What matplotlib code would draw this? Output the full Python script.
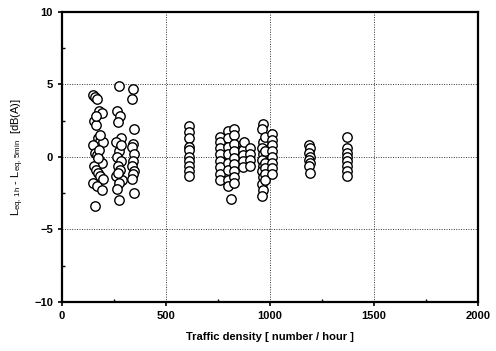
import matplotlib
matplotlib.use("Agg")
import matplotlib.pyplot as plt
import numpy as np

plt.rcParams['font.family'] = ['Liberation Sans', 'DejaVu Sans']
plt.rcParams['mathtext.default'] = 'regular'

# Traffic density groups (x) and differences (y)
g1_x = [150, 160, 170, 180, 190, 155, 165, 175, 185, 195, 150, 160, 170, 180, 190, 155, 165, 175, 185, 195, 150, 170, 190, 160, 180, 175, 165, 185]
g1_y = [4.3, 4.1, 4.0, 3.2, 3.0, 2.5, 2.2, 1.3, 1.1, 1.0, 0.8, 0.3, 0.1, -0.2, -0.4, -0.6, -0.9, -1.1, -1.3, -1.5, -1.8, -2.0, -2.3, -3.4, 0.5, -0.1, 2.8, 1.5]
g2_x = [275, 265, 280, 270, 285, 260, 275, 265, 285, 270, 280, 260, 290, 275, 265, 275, 285, 270]
g2_y = [4.9, 3.2, 2.8, 2.4, 1.3, 1.0, 0.4, 0.0, -0.3, -0.6, -0.9, -1.3, -1.6, -1.8, -2.2, -3.0, 0.8, -1.1]
g3_x = [340, 335, 345, 340, 335, 345, 340, 335, 345, 340, 335, 345]
g3_y = [4.7, 4.0, 1.9, 0.9, 0.7, 0.2, -0.3, -0.6, -1.0, -1.2, -1.5, -2.5]
g4_x = [612, 608, 610, 612, 608, 610, 612, 608, 610, 612]
g4_y = [2.1, 1.7, 1.3, 0.7, 0.5, 0.0, -0.3, -0.6, -1.0, -1.3]
g5_x = [760, 760, 760, 760, 760, 760, 760, 760,
        800, 800, 800, 800, 800, 800, 800, 800,
        825, 825, 825, 825, 825, 825, 825, 825, 825, 810,
        870, 870, 870, 870, 870, 875,
        905, 905, 905, 905]
g5_y = [1.4, 1.0, 0.6, 0.2, -0.3, -0.7, -1.2, -1.6,
        1.8, 1.3, 0.7, 0.2, -0.4, -0.9, -1.6, -2.0,
        1.9, 1.5, 0.9, 0.4, -0.1, -0.5, -1.0, -1.4, -1.8, -2.9,
        0.9, 0.5, 0.1, -0.3, -0.7, 1.0,
        0.6, 0.2, -0.2, -0.6]
g6_x = [967, 960, 967, 960, 967, 960, 967, 960, 967, 960, 967, 962,
        975, 975, 975, 975, 975, 975,
        1010, 1010, 1010, 1010, 1010, 1010, 1010, 1010]
g6_y = [2.3, 1.9, 1.0, 0.6, 0.2, -0.2, -0.6, -1.0, -1.4, -1.9, -2.3, -2.7,
        1.4, 0.4, -0.4, -0.8, -1.2, -1.6,
        1.6, 1.2, 0.8, 0.4, 0.0, -0.4, -0.8, -1.2]
g7_x = [1188, 1190, 1188, 1190, 1188, 1190, 1188, 1190]
g7_y = [0.8, 0.6, 0.3, 0.0, -0.2, -0.4, -0.6, -1.1]
g8_x = [1370, 1372, 1370, 1372, 1370, 1372, 1370, 1372]
g8_y = [1.4, 0.6, 0.3, 0.0, -0.3, -0.6, -1.0, -1.3]

x_all = g1_x + g2_x + g3_x + g4_x + g5_x + g6_x + g7_x + g8_x
y_all = g1_y + g2_y + g3_y + g4_y + g5_y + g6_y + g7_y + g8_y

xticks = [0, 500, 1000, 1500, 2000]
yticks = [-10, -5, 0, 5, 10]

fig = plt.figure(figsize=(4.96, 3.51), dpi=100)
ax = fig.add_axes([0.125, 0.140, 0.839, 0.826])
ax.scatter(x_all, y_all, s=46, facecolors='white', edgecolors='black', linewidths=1.0, zorder=3)

ax.set_xlim(0, 2000)
ax.set_ylim(-10, 10)
ax.set_xticks(xticks)
ax.set_yticks(yticks)
ax.set_xticks([250, 750, 1250, 1750], minor=True)
ax.set_yticks([-7.5, -2.5, 2.5, 7.5], minor=True)
ax.tick_params(axis='both', which='major', direction='out', length=3, width=1.2, labelsize=8)
ax.tick_params(axis='both', which='minor', direction='in', length=2, width=1.0)
for lab in ax.get_xticklabels() + ax.get_yticklabels():
    lab.set_fontweight('bold')
ax.grid(True, which='major', linestyle=(0, (1, 1.5)), color='#333333', linewidth=0.7)
ax.set_axisbelow(True)
for sp in ax.spines.values():
    sp.set_linewidth(1.6)

ax.set_xlabel('Traffic density [ number / hour ]', fontsize=8, fontweight='bold', labelpad=8)
ax.set_ylabel(r'L$_{eq,\,1h}$ - L$_{eq,\,5min}$  [dB(A)]', fontsize=8, labelpad=6)

fig.savefig('out.png', dpi=100)
